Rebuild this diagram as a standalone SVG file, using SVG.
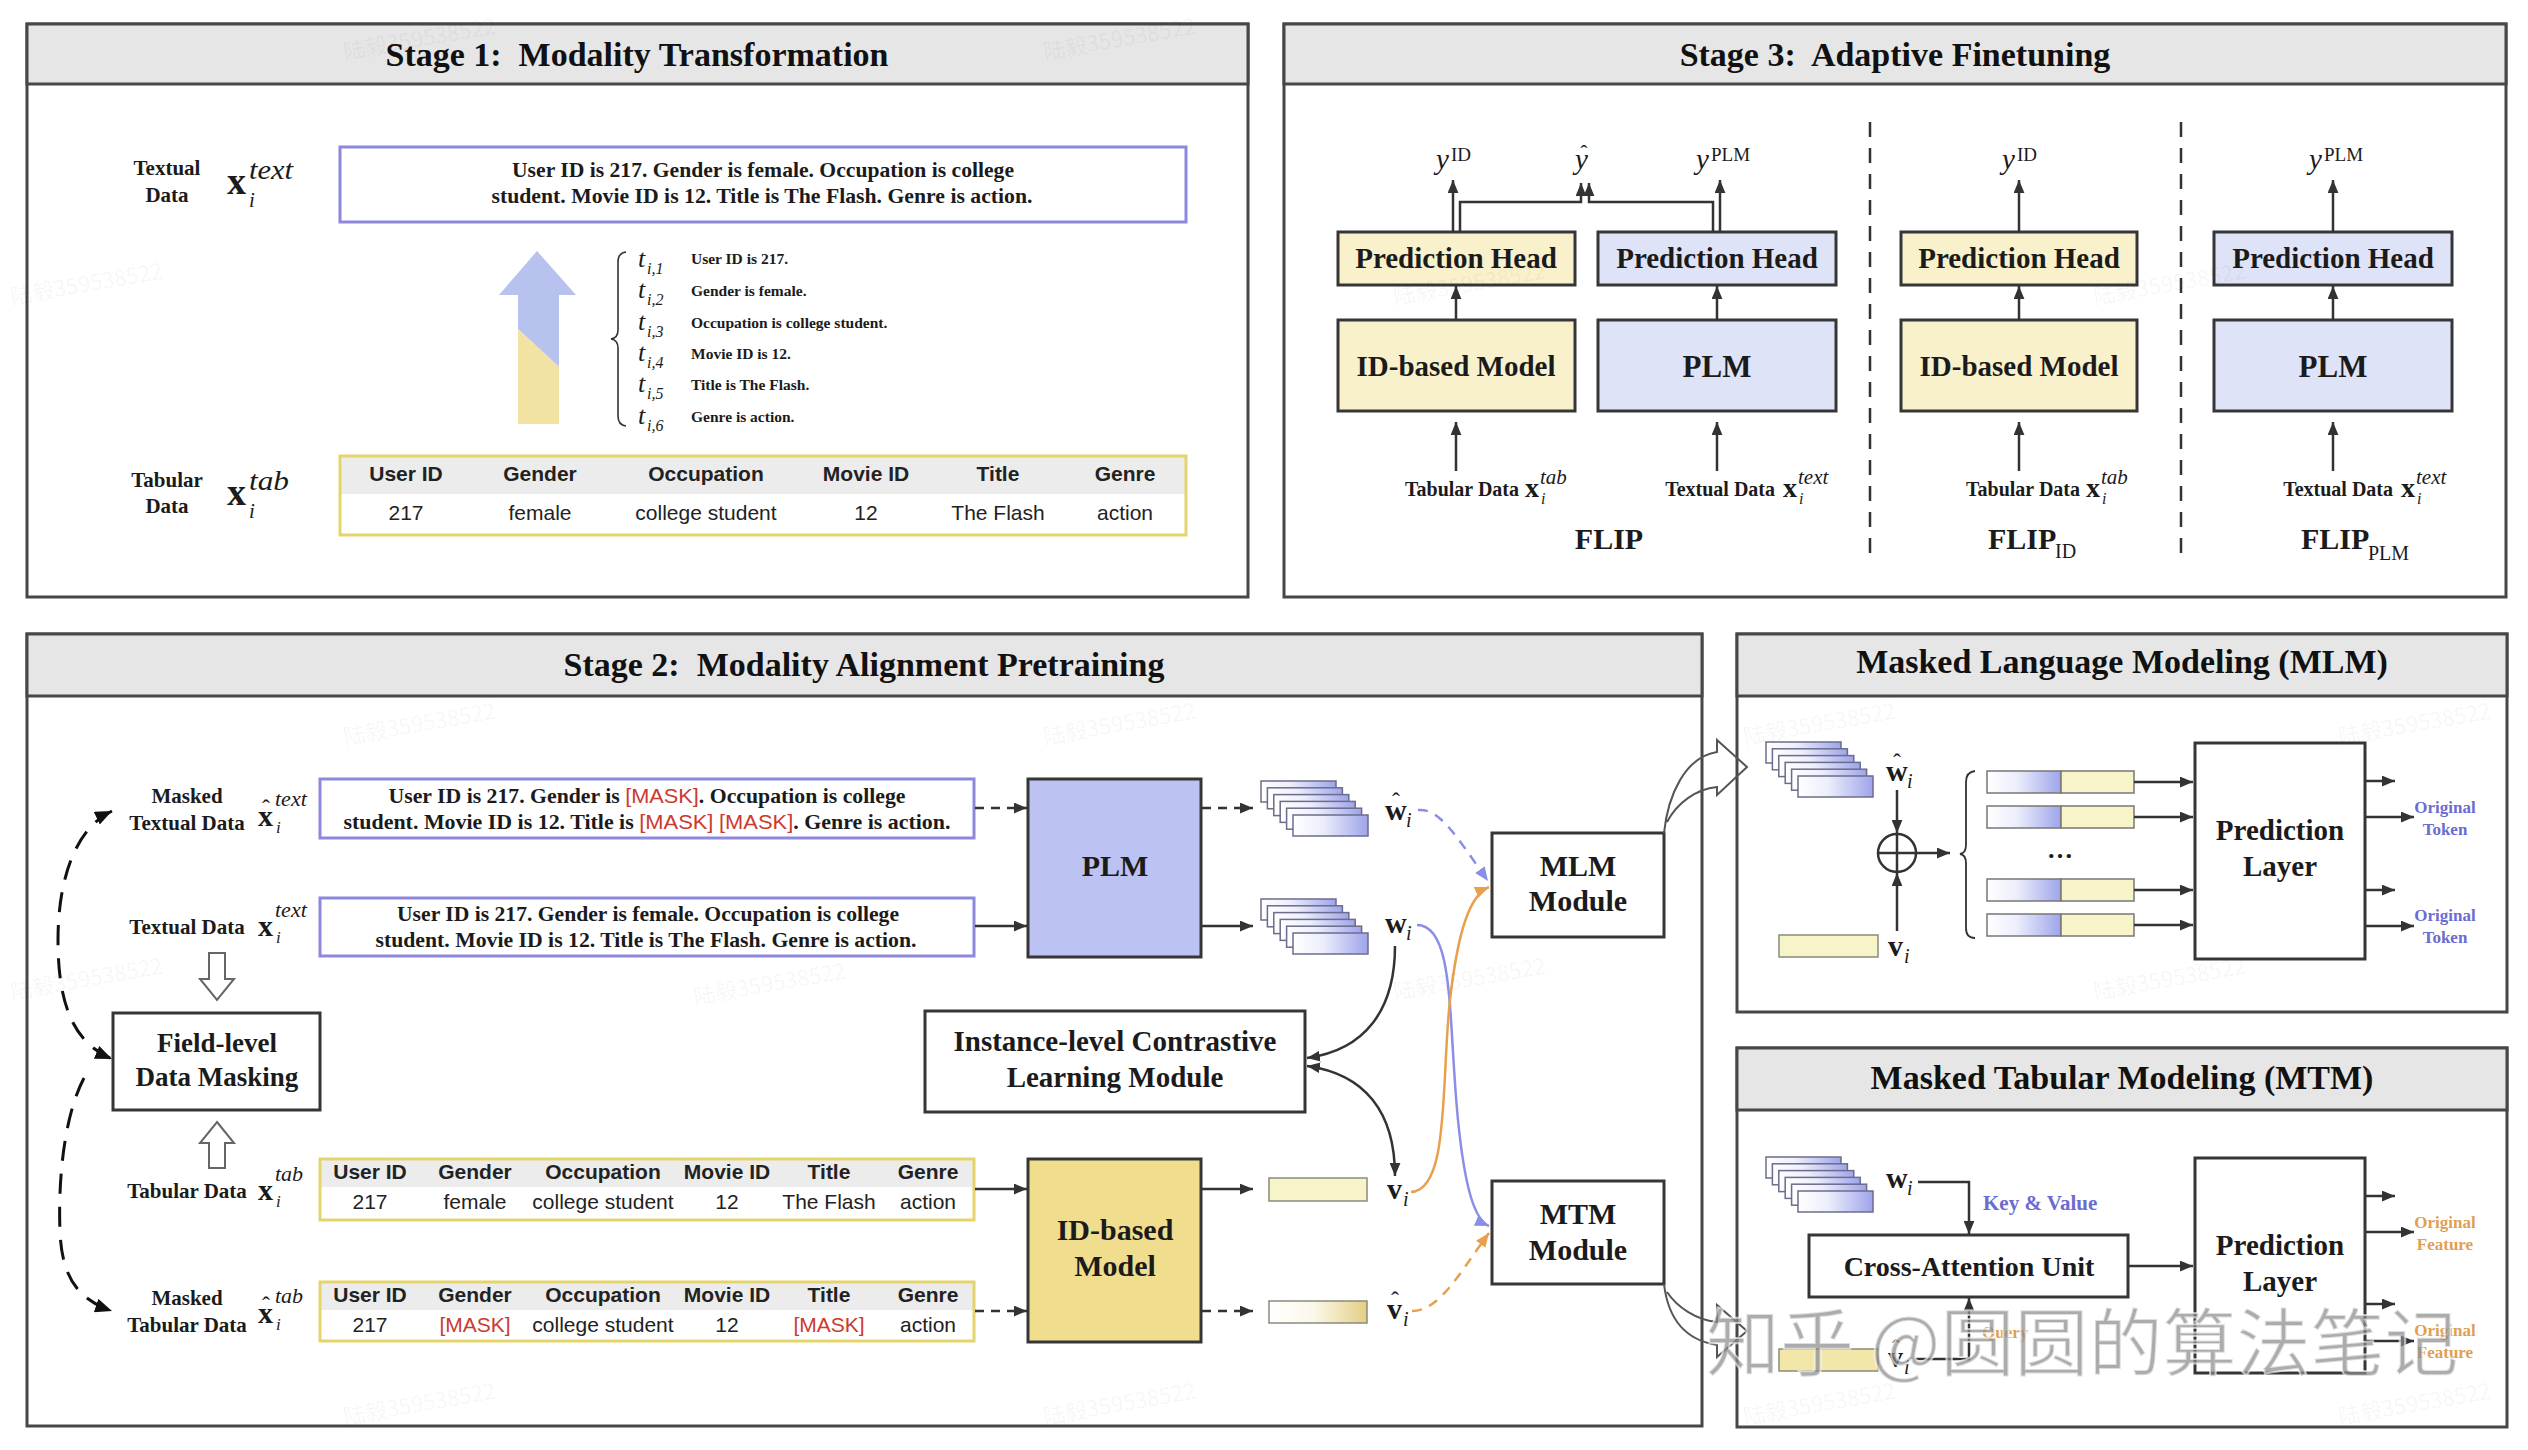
<svg xmlns="http://www.w3.org/2000/svg" width="2528" height="1450" viewBox="0 0 2528 1450">
<style>
.panel{fill:#fff;stroke:#474747;stroke-width:3}
.hdr{fill:#e6e6e6;stroke:#474747;stroke-width:3}
.title{font-family:"Liberation Serif",serif;font-weight:bold;font-size:34px;text-anchor:middle;fill:#111}
.sb{font-family:"Liberation Serif",serif;font-weight:bold;fill:#1b1b1b}
.sr{font-family:"Liberation Serif",serif;fill:#1b1b1b}
.si{font-family:"Liberation Serif",serif;font-style:italic;fill:#1b1b1b}
.ss{font-family:"Liberation Sans",Arial,sans-serif;fill:#222}
.ssb{font-family:"Liberation Sans",Arial,sans-serif;font-weight:bold;fill:#222}
.red{fill:#cc3a30}
.mid{text-anchor:middle}
.end{text-anchor:end}
.box{stroke:#363636;stroke-width:3}
.wbox{fill:#fff;stroke:#363636;stroke-width:3}
.ylw{fill:#f8f1cc}
.lav{fill:#dfe3f8}
.ln{fill:none;stroke:#333;stroke-width:2.5}
.dash{fill:none;stroke:#333;stroke-width:2.5;stroke-dasharray:9 7}
.txtbox{fill:#fff;stroke:#8d88dc;stroke-width:3}
.tabbox{fill:none;stroke:#e5d46c;stroke-width:3}
.thead{fill:#ececec}
.mask{font-family:"Liberation Sans",Arial,sans-serif;font-weight:normal;fill:#cc3a30}
.wm{font-family:"Noto Sans CJK SC","Liberation Sans",sans-serif;font-size:22px;fill:#000;fill-opacity:0.05}
.hollow{fill:#fff;stroke:#666;stroke-width:2}
.lavt{fill:#6b6bd0}
.orat{fill:#e0a050}
</style>
<defs>
<marker id="ah" viewBox="0 0 12 10" refX="12" refY="5" markerWidth="13" markerHeight="11" orient="auto-start-reverse" markerUnits="userSpaceOnUse"><path d="M0,0 L12,5 L0,10 z" fill="#333"/></marker>
<marker id="ahb" viewBox="0 0 12 10" refX="12" refY="5" markerWidth="17" markerHeight="14" orient="auto-start-reverse" markerUnits="userSpaceOnUse"><path d="M0,0 L12,5 L0,10 z" fill="#111"/></marker>
<marker id="ahl" viewBox="0 0 12 10" refX="12" refY="5" markerWidth="14" markerHeight="12" orient="auto" markerUnits="userSpaceOnUse"><path d="M0,0 L12,5 L0,10 z" fill="#8a8ee6"/></marker>
<marker id="aho" viewBox="0 0 12 10" refX="12" refY="5" markerWidth="14" markerHeight="12" orient="auto" markerUnits="userSpaceOnUse"><path d="M0,0 L12,5 L0,10 z" fill="#e8a04c"/></marker>
<linearGradient id="gLav" x1="0" y1="0" x2="1" y2="0"><stop offset="0" stop-color="#ffffff"/><stop offset="0.4" stop-color="#eceefb"/><stop offset="1" stop-color="#9ea4ea"/></linearGradient>
<linearGradient id="gYel" x1="0" y1="0" x2="1" y2="0"><stop offset="0" stop-color="#ffffff"/><stop offset="0.45" stop-color="#fbf8ea"/><stop offset="1" stop-color="#e4cf86"/></linearGradient>
<g id="stack">
<rect x="0" y="0" width="75" height="21" fill="url(#gLav)" stroke="#6c6c8c" stroke-width="1.5"/>
<rect x="6.4" y="6.8" width="75" height="21" fill="url(#gLav)" stroke="#6c6c8c" stroke-width="1.5"/>
<rect x="12.8" y="13.6" width="75" height="21" fill="url(#gLav)" stroke="#6c6c8c" stroke-width="1.5"/>
<rect x="19.2" y="20.4" width="75" height="21" fill="url(#gLav)" stroke="#6c6c8c" stroke-width="1.5"/>
<rect x="25.6" y="27.2" width="75" height="21" fill="url(#gLav)" stroke="#6c6c8c" stroke-width="1.5"/>
<rect x="32" y="34" width="75" height="21" fill="url(#gLav)" stroke="#6c6c8c" stroke-width="1.5"/>
</g>
</defs>
<rect x="0" y="0" width="2528" height="1450" fill="#fff"/>

<!-- ================= STAGE 1 ================= -->
<g id="stage1">
<rect class="panel" x="27" y="24" width="1221" height="573"/>
<rect class="hdr" x="27" y="24" width="1221" height="60"/>
<text class="title" x="637" y="66">Stage 1:&#160; Modality Transformation</text>
</g>
<g id="s1-textual-label">
<text class="sb mid" x="167" y="175" font-size="21">Textual</text>
<text class="sb mid" x="167" y="202" font-size="21">Data</text>
<text class="sb" x="227" y="194" font-size="38">x</text>
<text class="si" x="249" y="179" font-size="27" textLength="44" lengthAdjust="spacingAndGlyphs">text</text>
<text class="si" x="249" y="207" font-size="21">i</text>
</g>
<g id="s1-textbox">
<rect class="txtbox" x="340" y="147" width="846" height="75"/>
<text class="sb mid" x="763" y="177" font-size="21.5" textLength="502" lengthAdjust="spacingAndGlyphs">User ID is 217. Gender is female. Occupation is college</text>
<text class="sb mid" x="762" y="203" font-size="21.5" textLength="541" lengthAdjust="spacingAndGlyphs">student. Movie ID is 12. Title is The Flash. Genre is action.</text>
</g>
<g id="s1-bigarrow">
<polygon points="537,251 576,295 559,295 559,367 518,329 518,295 499,295" fill="#b7c3ee"/>
<polygon points="518,329 559,367 559,424 518,424" fill="#f2e3a2"/>
</g>
<g id="s1-fields">
<path d="M626,252 Q618,253 618,262 L618,330 Q618,338 611,339 Q618,340 618,348 L618,416 Q618,425 626,426" fill="none" stroke="#333" stroke-width="1.6"/>
<text class="si" x="638" y="267" font-size="26">t</text><text class="si" x="647" y="274" font-size="16">i,1</text>
<text class="si" x="638" y="298" font-size="26">t</text><text class="si" x="647" y="305" font-size="16">i,2</text>
<text class="si" x="638" y="330" font-size="26">t</text><text class="si" x="647" y="337" font-size="16">i,3</text>
<text class="si" x="638" y="361" font-size="26">t</text><text class="si" x="647" y="368" font-size="16">i,4</text>
<text class="si" x="638" y="392" font-size="26">t</text><text class="si" x="647" y="399" font-size="16">i,5</text>
<text class="si" x="638" y="424" font-size="26">t</text><text class="si" x="647" y="431" font-size="16">i,6</text>
<text class="sb" x="691" y="264" font-size="15.5">User ID is 217.</text>
<text class="sb" x="691" y="296" font-size="15.5">Gender is female.</text>
<text class="sb" x="691" y="328" font-size="15.5">Occupation is college student.</text>
<text class="sb" x="691" y="359" font-size="15.5">Movie ID is 12.</text>
<text class="sb" x="691" y="390" font-size="15.5">Title is The Flash.</text>
<text class="sb" x="691" y="422" font-size="15.5">Genre is action.</text>
</g>
<g id="s1-tabular-label">
<text class="sb mid" x="167" y="487" font-size="21">Tabular</text>
<text class="sb mid" x="167" y="513" font-size="21">Data</text>
<text class="sb" x="227" y="505" font-size="38">x</text>
<text class="si" x="249" y="490" font-size="27" textLength="40" lengthAdjust="spacingAndGlyphs">tab</text>
<text class="si" x="249" y="518" font-size="21">i</text>
</g>
<g id="s1-table">
<rect class="thead" x="340" y="456" width="846" height="38"/>
<rect class="tabbox" x="340" y="456" width="846" height="79"/>
<text class="ssb mid" x="406" y="481" font-size="21">User ID</text>
<text class="ssb mid" x="540" y="481" font-size="21">Gender</text>
<text class="ssb mid" x="706" y="481" font-size="21">Occupation</text>
<text class="ssb mid" x="866" y="481" font-size="21">Movie ID</text>
<text class="ssb mid" x="998" y="481" font-size="21">Title</text>
<text class="ssb mid" x="1125" y="481" font-size="21">Genre</text>
<text class="ss mid" x="406" y="520" font-size="21">217</text>
<text class="ss mid" x="540" y="520" font-size="21">female</text>
<text class="ss mid" x="706" y="520" font-size="21">college student</text>
<text class="ss mid" x="866" y="520" font-size="21">12</text>
<text class="ss mid" x="998" y="520" font-size="21">The Flash</text>
<text class="ss mid" x="1125" y="520" font-size="21">action</text>
</g>

<!-- ================= STAGE 3 ================= -->
<g id="stage3">
<rect class="panel" x="1284" y="24" width="1222" height="573"/>
<rect class="hdr" x="1284" y="24" width="1222" height="60"/>
<text class="title" x="1895" y="66">Stage 3:&#160; Adaptive Finetuning</text>
</g>
<g id="s3-ph1"><rect class="box ylw" x="1338" y="232" width="237" height="53"/><text class="sb mid" x="1456" y="268" font-size="29">Prediction Head</text></g>
<g id="s3-ph2"><rect class="box lav" x="1598" y="232" width="238" height="53"/><text class="sb mid" x="1717" y="268" font-size="29">Prediction Head</text></g>
<g id="s3-ph3"><rect class="box ylw" x="1901" y="232" width="236" height="53"/><text class="sb mid" x="2019" y="268" font-size="29">Prediction Head</text></g>
<g id="s3-ph4"><rect class="box lav" x="2214" y="232" width="238" height="53"/><text class="sb mid" x="2333" y="268" font-size="29">Prediction Head</text></g>
<g id="s3-m1"><rect class="box ylw" x="1338" y="320" width="237" height="91"/><text class="sb mid" x="1456" y="376" font-size="29">ID-based Model</text></g>
<g id="s3-m2"><rect class="box lav" x="1598" y="320" width="238" height="91"/><text class="sb mid" x="1717" y="377" font-size="31">PLM</text></g>
<g id="s3-m3"><rect class="box ylw" x="1901" y="320" width="236" height="91"/><text class="sb mid" x="2019" y="376" font-size="29">ID-based Model</text></g>
<g id="s3-m4"><rect class="box lav" x="2214" y="320" width="238" height="91"/><text class="sb mid" x="2333" y="377" font-size="31">PLM</text></g>
<g id="s3-labels">
<text class="sb end" x="1519" y="496" font-size="20" fill="#333">Tabular Data</text>
<text class="sb" x="1525" y="497" font-size="28">x</text><text class="si" x="1540" y="484" font-size="21">tab</text><text class="si" x="1541" y="504" font-size="16">i</text>
<text class="sb end" x="1775" y="496" font-size="20" fill="#333">Textual Data</text>
<text class="sb" x="1783" y="497" font-size="28">x</text><text class="si" x="1798" y="484" font-size="21">text</text><text class="si" x="1799" y="504" font-size="16">i</text>
<text class="sb end" x="2080" y="496" font-size="20" fill="#333">Tabular Data</text>
<text class="sb" x="2086" y="497" font-size="28">x</text><text class="si" x="2101" y="484" font-size="21">tab</text><text class="si" x="2102" y="504" font-size="16">i</text>
<text class="sb end" x="2393" y="496" font-size="20" fill="#333">Textual Data</text>
<text class="sb" x="2401" y="497" font-size="28">x</text><text class="si" x="2416" y="484" font-size="21">text</text><text class="si" x="2417" y="504" font-size="16">i</text>
<text class="si" x="1436" y="169" font-size="29">y</text><text class="sr" x="1451" y="161" font-size="19">ID</text>
<text class="si" x="1575" y="169" font-size="29">y</text><text class="sr mid" x="1584" y="160" font-size="22">ˆ</text>
<text class="si" x="1696" y="169" font-size="29">y</text><text class="sr" x="1711" y="161" font-size="19">PLM</text>
<text class="si" x="2002" y="169" font-size="29">y</text><text class="sr" x="2017" y="161" font-size="19">ID</text>
<text class="si" x="2309" y="169" font-size="29">y</text><text class="sr" x="2324" y="161" font-size="19">PLM</text>
<text class="sb mid" x="1609" y="549" font-size="30">FLIP</text>
<text class="sb" x="1988" y="549" font-size="30">FLIP</text><text class="sr" x="2055" y="558" font-size="20">ID</text>
<text class="sb" x="2301" y="549" font-size="30">FLIP</text><text class="sr" x="2368" y="560" font-size="20">PLM</text>
</g>
<g id="s3-connectors">
<line class="ln" x1="1456" y1="471" x2="1456" y2="422" marker-end="url(#ah)"/>
<line class="ln" x1="1717" y1="471" x2="1717" y2="422" marker-end="url(#ah)"/>
<line class="ln" x1="2019" y1="471" x2="2019" y2="422" marker-end="url(#ah)"/>
<line class="ln" x1="2333" y1="471" x2="2333" y2="422" marker-end="url(#ah)"/>
<line class="ln" x1="1456" y1="320" x2="1456" y2="286" marker-end="url(#ah)"/>
<line class="ln" x1="1717" y1="320" x2="1717" y2="286" marker-end="url(#ah)"/>
<line class="ln" x1="2019" y1="320" x2="2019" y2="286" marker-end="url(#ah)"/>
<line class="ln" x1="2333" y1="320" x2="2333" y2="286" marker-end="url(#ah)"/>
<line class="ln" x1="1453" y1="232" x2="1453" y2="180" marker-end="url(#ah)"/>
<path class="ln" d="M1460,232 L1460,202 L1581,202 L1581,183" marker-end="url(#ah)"/>
<path class="ln" d="M1713,232 L1713,202 L1589,202 L1589,183" marker-end="url(#ah)"/>
<line class="ln" x1="1720" y1="232" x2="1720" y2="180" marker-end="url(#ah)"/>
<line class="ln" x1="2019" y1="232" x2="2019" y2="180" marker-end="url(#ah)"/>
<line class="ln" x1="2333" y1="232" x2="2333" y2="180" marker-end="url(#ah)"/>
<line x1="1870" y1="122" x2="1870" y2="553" stroke="#333" stroke-width="2.5" stroke-dasharray="15 11"/>
<line x1="2181" y1="122" x2="2181" y2="553" stroke="#333" stroke-width="2.5" stroke-dasharray="15 11"/>
</g>

<!-- ================= STAGE 2 ================= -->
<g id="stage2">
<rect class="panel" x="27" y="634" width="1675" height="792"/>
<rect class="hdr" x="27" y="634" width="1675" height="62"/>
<text class="title" x="864" y="676">Stage 2:&#160; Modality Alignment Pretraining</text>
</g>
<g id="s2-labels">
<text class="sb mid" x="187" y="803" font-size="21" fill="#333">Masked</text>
<text class="sb mid" x="187" y="830" font-size="21">Textual Data</text>
<text class="sb" x="258" y="826" font-size="30">x</text><text class="sr mid" x="266" y="816" font-size="24">ˆ</text><text class="si" x="275" y="806" font-size="22">text</text><text class="si" x="276" y="833" font-size="17">i</text>
<text class="sb mid" x="187" y="934" font-size="21">Textual Data</text>
<text class="sb" x="258" y="936" font-size="30">x</text><text class="si" x="275" y="917" font-size="22">text</text><text class="si" x="276" y="943" font-size="17">i</text>
<text class="sb mid" x="187" y="1198" font-size="21">Tabular Data</text>
<text class="sb" x="258" y="1200" font-size="30">x</text><text class="si" x="275" y="1181" font-size="22">tab</text><text class="si" x="276" y="1207" font-size="17">i</text>
<text class="sb mid" x="187" y="1305" font-size="21">Masked</text>
<text class="sb mid" x="187" y="1332" font-size="21">Tabular Data</text>
<text class="sb" x="258" y="1323" font-size="30">x</text><text class="sr mid" x="266" y="1313" font-size="24">ˆ</text><text class="si" x="275" y="1303" font-size="22">tab</text><text class="si" x="276" y="1330" font-size="17">i</text>
</g>
<g id="s2-masked-text">
<rect class="txtbox" x="320" y="779" width="654" height="59"/>
<text class="sb mid" x="647" y="803" font-size="21" textLength="517" lengthAdjust="spacingAndGlyphs">User ID is 217. Gender is <tspan class="mask">[MASK]</tspan>. Occupation is college</text>
<text class="sb mid" x="647" y="829" font-size="21" textLength="607" lengthAdjust="spacingAndGlyphs">student. Movie ID is 12. Title is <tspan class="mask">[MASK]</tspan> <tspan class="mask">[MASK]</tspan>. Genre is action.</text>
</g>
<g id="s2-textual">
<rect class="txtbox" x="320" y="898" width="654" height="58"/>
<text class="sb mid" x="648" y="921" font-size="21" textLength="502" lengthAdjust="spacingAndGlyphs">User ID is 217. Gender is female. Occupation is college</text>
<text class="sb mid" x="646" y="947" font-size="21" textLength="541" lengthAdjust="spacingAndGlyphs">student. Movie ID is 12. Title is The Flash. Genre is action.</text>
</g>
<g id="s2-field-masking">
<polygon class="hollow" points="209,953 225,953 225,979 234,979 217,1000 200,979 209,979"/>
<rect class="wbox" x="113" y="1013" width="207" height="97"/>
<text class="sb mid" x="217" y="1052" font-size="27">Field-level</text>
<text class="sb mid" x="217" y="1086" font-size="27">Data Masking</text>
<polygon class="hollow" points="217,1122 234,1143 225,1143 225,1168 209,1168 209,1143 200,1143"/>
</g>
<g id="s2-tabular">
<rect class="thead" x="320" y="1159" width="654" height="28"/>
<rect class="tabbox" x="320" y="1159" width="654" height="61"/>
<text class="ssb mid" x="370" y="1179" font-size="21">User ID</text>
<text class="ssb mid" x="475" y="1179" font-size="21">Gender</text>
<text class="ssb mid" x="603" y="1179" font-size="21">Occupation</text>
<text class="ssb mid" x="727" y="1179" font-size="21">Movie ID</text>
<text class="ssb mid" x="829" y="1179" font-size="21">Title</text>
<text class="ssb mid" x="928" y="1179" font-size="21">Genre</text>
<text class="ss mid" x="370" y="1209" font-size="21">217</text>
<text class="ss mid" x="475" y="1209" font-size="21">female</text>
<text class="ss mid" x="603" y="1209" font-size="21">college student</text>
<text class="ss mid" x="727" y="1209" font-size="21">12</text>
<text class="ss mid" x="829" y="1209" font-size="21">The Flash</text>
<text class="ss mid" x="928" y="1209" font-size="21">action</text>
</g>
<g id="s2-masked-tabular">
<rect class="thead" x="320" y="1282" width="654" height="28"/>
<rect class="tabbox" x="320" y="1282" width="654" height="59"/>
<text class="ssb mid" x="370" y="1302" font-size="21">User ID</text>
<text class="ssb mid" x="475" y="1302" font-size="21">Gender</text>
<text class="ssb mid" x="603" y="1302" font-size="21">Occupation</text>
<text class="ssb mid" x="727" y="1302" font-size="21">Movie ID</text>
<text class="ssb mid" x="829" y="1302" font-size="21">Title</text>
<text class="ssb mid" x="928" y="1302" font-size="21">Genre</text>
<text class="ss mid" x="370" y="1332" font-size="21">217</text>
<text class="ss red mid" x="475" y="1332" font-size="21">[MASK]</text>
<text class="ss mid" x="603" y="1332" font-size="21">college student</text>
<text class="ss mid" x="727" y="1332" font-size="21">12</text>
<text class="ss red mid" x="829" y="1332" font-size="21">[MASK]</text>
<text class="ss mid" x="928" y="1332" font-size="21">action</text>
</g>
<g id="s2-plm"><rect class="box" fill="#bcc2f1" x="1028" y="779" width="173" height="178"/><text class="sb mid" x="1115" y="876" font-size="30">PLM</text></g>
<g id="s2-idmodel"><rect class="box" fill="#f1dd8e" x="1028" y="1159" width="173" height="183"/><text class="sb mid" x="1115" y="1240" font-size="30">ID-based</text><text class="sb mid" x="1115" y="1276" font-size="30">Model</text></g>
<g id="s2-embeddings">
<use href="#stack" x="1261" y="781"/>
<use href="#stack" x="1261" y="899"/>
<rect x="1269" y="1178" width="98" height="23" fill="#f7f4c9" stroke="#8a8a7a" stroke-width="1.5"/>
<rect x="1269" y="1301" width="98" height="22" fill="url(#gYel)" stroke="#8a8a7a" stroke-width="1.5"/>
<text class="sb" x="1385" y="820" font-size="30">w</text><text class="sr mid" x="1396" y="809" font-size="24">ˆ</text><text class="si" x="1406" y="827" font-size="20">i</text>
<text class="sb" x="1385" y="933" font-size="30">w</text><text class="si" x="1406" y="940" font-size="20">i</text>
<text class="sb" x="1387" y="1199" font-size="30">v</text><text class="si" x="1403" y="1206" font-size="20">i</text>
<text class="sb" x="1387" y="1319" font-size="30">v</text><text class="sr mid" x="1395" y="1308" font-size="24">ˆ</text><text class="si" x="1403" y="1326" font-size="20">i</text>
</g>
<g id="s2-instance"><rect class="wbox" x="925" y="1011" width="380" height="101"/><text class="sb mid" x="1115" y="1051" font-size="29">Instance-level Contrastive</text><text class="sb mid" x="1115" y="1087" font-size="29">Learning Module</text></g>
<g id="s2-mlm-module"><rect class="wbox" x="1492" y="833" width="172" height="104"/><text class="sb mid" x="1578" y="876" font-size="30">MLM</text><text class="sb mid" x="1578" y="911" font-size="30">Module</text></g>
<g id="s2-mtm-module"><rect class="wbox" x="1492" y="1181" width="172" height="103"/><text class="sb mid" x="1578" y="1224" font-size="30">MTM</text><text class="sb mid" x="1578" y="1260" font-size="30">Module</text></g>

<!-- ================= MLM panel ================= -->
<g id="mlm-panel">
<rect class="panel" x="1737" y="634" width="770" height="378"/>
<rect class="hdr" x="1737" y="634" width="770" height="62"/>
<text class="title" x="2122" y="673">Masked Language Modeling (MLM)</text>
</g>
<g id="mlm-inputs">
<use href="#stack" x="1766" y="742"/>
<text class="sb" x="1886" y="781" font-size="30">w</text><text class="sr mid" x="1897" y="770" font-size="24">ˆ</text><text class="si" x="1907" y="788" font-size="20">i</text>
<rect x="1779" y="935" width="99" height="22" fill="#f7f4c9" stroke="#8a8a7a" stroke-width="1.5"/>
<text class="sb" x="1888" y="956" font-size="30">v</text><text class="si" x="1904" y="963" font-size="20">i</text>
<circle cx="1897" cy="853" r="19" fill="#fff" stroke="#333" stroke-width="2.5"/>
<line x1="1878" y1="853" x2="1916" y2="853" stroke="#333" stroke-width="2.5"/>
<line x1="1897" y1="834" x2="1897" y2="872" stroke="#333" stroke-width="2.5"/>
<path d="M1975,771 Q1966,772 1966,782 L1966,845 Q1966,853 1960,854 Q1966,855 1966,863 L1966,928 Q1966,938 1975,938" fill="none" stroke="#333" stroke-width="1.8"/>
</g>
<g id="mlm-tokens">
<rect x="1987" y="771" width="74" height="22" fill="url(#gLav)" stroke="#777" stroke-width="1.5"/><rect x="2061" y="771" width="73" height="22" fill="#f7f4c9" stroke="#777" stroke-width="1.5"/>
<rect x="1987" y="806" width="74" height="22" fill="url(#gLav)" stroke="#777" stroke-width="1.5"/><rect x="2061" y="806" width="73" height="22" fill="#f7f4c9" stroke="#777" stroke-width="1.5"/>
<rect x="1987" y="879" width="74" height="22" fill="url(#gLav)" stroke="#777" stroke-width="1.5"/><rect x="2061" y="879" width="73" height="22" fill="#f7f4c9" stroke="#777" stroke-width="1.5"/>
<rect x="1987" y="914" width="74" height="22" fill="url(#gLav)" stroke="#777" stroke-width="1.5"/><rect x="2061" y="914" width="73" height="22" fill="#f7f4c9" stroke="#777" stroke-width="1.5"/>
<text class="sb mid" x="2060" y="858" font-size="26">…</text>
</g>
<g id="mlm-pred"><rect class="wbox" x="2195" y="743" width="170" height="216"/><text class="sb mid" x="2280" y="840" font-size="29">Prediction</text><text class="sb mid" x="2280" y="876" font-size="29">Layer</text></g>
<g id="mlm-outputs">
<text class="sb mid lavt" x="2445" y="813" font-size="17">Original</text><text class="sb mid lavt" x="2445" y="835" font-size="17">Token</text>
<text class="sb mid lavt" x="2445" y="921" font-size="17">Original</text><text class="sb mid lavt" x="2445" y="943" font-size="17">Token</text>
</g>

<!-- ================= MTM panel ================= -->
<g id="mtm-panel">
<rect class="panel" x="1737" y="1048" width="770" height="379"/>
<rect class="hdr" x="1737" y="1048" width="770" height="62"/>
<text class="title" x="2122" y="1089">Masked Tabular Modeling (MTM)</text>
</g>
<g id="mtm-inputs">
<use href="#stack" x="1766" y="1157"/>
<text class="sb" x="1886" y="1188" font-size="30">w</text><text class="si" x="1907" y="1195" font-size="20">i</text>
<text class="sb lavt" x="1983" y="1210" font-size="21">Key &amp; Value</text>
<rect x="1779" y="1349" width="99" height="22" fill="#f2e6a8" stroke="#8a8a7a" stroke-width="1.5"/>
<text class="sb" x="1888" y="1367" font-size="30">v</text><text class="sr mid" x="1896" y="1356" font-size="24">ˆ</text><text class="si" x="1904" y="1374" font-size="20">i</text>
<text class="sb orat" x="1982" y="1338" font-size="17">Query</text>
</g>
<g id="mtm-cross"><rect class="wbox" x="1809" y="1235" width="319" height="62"/><text class="sb mid" x="1969" y="1276" font-size="28">Cross-Attention Unit</text></g>
<g id="mtm-pred"><rect class="wbox" x="2195" y="1158" width="170" height="215"/><text class="sb mid" x="2280" y="1255" font-size="29">Prediction</text><text class="sb mid" x="2280" y="1291" font-size="29">Layer</text></g>
<g id="mtm-outputs">
<text class="sb mid orat" x="2445" y="1228" font-size="17">Original</text><text class="sb mid orat" x="2445" y="1250" font-size="17">Feature</text>
<text class="sb mid orat" x="2445" y="1336" font-size="17">Original</text><text class="sb mid orat" x="2445" y="1358" font-size="17">Feature</text>
</g>

<!-- ================= CONNECTORS ================= -->
<g id="connectors">
<path d="M112,811 C76,828 58,878 58,940 C58,1002 72,1042 112,1059" fill="none" stroke="#111" stroke-width="3" stroke-dasharray="20 13" marker-start="url(#ahb)" marker-end="url(#ahb)"/>
<path d="M84,1078 C64,1116 58,1180 60,1232 C62,1280 80,1300 112,1311" fill="none" stroke="#111" stroke-width="3" stroke-dasharray="20 13" marker-end="url(#ahb)"/>
<line class="dash" x1="975" y1="808" x2="1027" y2="808" marker-end="url(#ah)"/>
<line class="ln" x1="975" y1="926" x2="1027" y2="926" marker-end="url(#ah)"/>
<line class="ln" x1="975" y1="1189" x2="1027" y2="1189" marker-end="url(#ah)"/>
<line class="dash" x1="975" y1="1311" x2="1027" y2="1311" marker-end="url(#ah)"/>
<line class="dash" x1="1202" y1="808" x2="1253" y2="808" marker-end="url(#ah)"/>
<line class="ln" x1="1202" y1="926" x2="1253" y2="926" marker-end="url(#ah)"/>
<line class="ln" x1="1202" y1="1189" x2="1253" y2="1189" marker-end="url(#ah)"/>
<line class="dash" x1="1202" y1="1311" x2="1253" y2="1311" marker-end="url(#ah)"/>
<path class="ln" d="M1395,946 C1395,1010 1365,1050 1307,1058" marker-end="url(#ah)"/>
<path class="ln" d="M1307,1066 C1365,1074 1395,1112 1395,1176" marker-start="url(#ah)" marker-end="url(#ah)"/>
<path d="M1418,810 C1440,808 1456,836 1488,881" fill="none" stroke="#8a8ee6" stroke-width="2.5" stroke-dasharray="10 8" marker-end="url(#ahl)"/>
<path d="M1417,925 C1455,925 1448,1020 1458,1120 C1465,1190 1475,1220 1489,1226" fill="none" stroke="#8a8ee6" stroke-width="2.5" marker-end="url(#ahl)"/>
<path d="M1411,1192 C1450,1190 1441,1080 1450,1000 C1458,930 1470,895 1489,887" fill="none" stroke="#e8a04c" stroke-width="2.5" marker-end="url(#aho)"/>
<path d="M1412,1311 C1440,1311 1460,1272 1489,1233" fill="none" stroke="#e8a04c" stroke-width="2.5" stroke-dasharray="10 8" marker-end="url(#aho)"/>
<path d="M1664,833 C1668,795 1685,757 1717,752 L1717,740 L1747,767 L1717,795 L1717,787 C1696,789 1677,803 1667,822" fill="none" stroke="#555" stroke-width="2"/>
<path d="M1664,1284 C1668,1318 1685,1340 1717,1345 L1717,1357 L1747,1331 L1717,1305 L1717,1322 C1696,1320 1677,1307 1667,1292" fill="none" stroke="#555" stroke-width="2"/>
<line class="ln" x1="1897" y1="790" x2="1897" y2="833" marker-end="url(#ah)"/>
<line class="ln" x1="1897" y1="931" x2="1897" y2="873" marker-end="url(#ah)"/>
<line class="ln" x1="1916" y1="853" x2="1950" y2="853" marker-end="url(#ah)"/>
<line class="ln" x1="2134" y1="782" x2="2193" y2="782" marker-end="url(#ah)"/>
<line class="ln" x1="2134" y1="817" x2="2193" y2="817" marker-end="url(#ah)"/>
<line class="ln" x1="2134" y1="890" x2="2193" y2="890" marker-end="url(#ah)"/>
<line class="ln" x1="2134" y1="925" x2="2193" y2="925" marker-end="url(#ah)"/>
<line class="ln" x1="2366" y1="781" x2="2395" y2="781" marker-end="url(#ah)"/>
<line class="ln" x1="2366" y1="817" x2="2414" y2="817" marker-end="url(#ah)"/>
<line class="ln" x1="2366" y1="890" x2="2395" y2="890" marker-end="url(#ah)"/>
<line class="ln" x1="2366" y1="926" x2="2414" y2="926" marker-end="url(#ah)"/>
<path class="ln" d="M1918,1182 L1969,1182 L1969,1234" marker-end="url(#ah)"/>
<path class="ln" d="M1915,1359 L1969,1359 L1969,1298" marker-end="url(#ah)"/>
<line class="ln" x1="2129" y1="1266" x2="2193" y2="1266" marker-end="url(#ah)"/>
<line class="ln" x1="2366" y1="1196" x2="2395" y2="1196" marker-end="url(#ah)"/>
<line class="ln" x1="2366" y1="1232" x2="2414" y2="1232" marker-end="url(#ah)"/>
<line class="ln" x1="2366" y1="1304" x2="2395" y2="1304" marker-end="url(#ah)"/>
<line class="ln" x1="2366" y1="1341" x2="2414" y2="1341" marker-end="url(#ah)"/>
</g>

<!-- ================= WATERMARKS ================= -->
<g id="watermarks">
<text class="wm" transform="translate(345,60) rotate(-10)">陆毅359538522</text>
<text class="wm" transform="translate(1045,60) rotate(-10)">陆毅359538522</text>
<text class="wm" transform="translate(12,305) rotate(-10)">陆毅359538522</text>
<text class="wm" transform="translate(1395,305) rotate(-10)">陆毅359538522</text>
<text class="wm" transform="translate(2095,305) rotate(-10)">陆毅359538522</text>
<text class="wm" transform="translate(345,745) rotate(-10)">陆毅359538522</text>
<text class="wm" transform="translate(1045,745) rotate(-10)">陆毅359538522</text>
<text class="wm" transform="translate(1745,745) rotate(-10)">陆毅359538522</text>
<text class="wm" transform="translate(2340,745) rotate(-10)">陆毅359538522</text>
<text class="wm" transform="translate(12,1000) rotate(-10)">陆毅359538522</text>
<text class="wm" transform="translate(695,1005) rotate(-10)">陆毅359538522</text>
<text class="wm" transform="translate(1395,1000) rotate(-10)">陆毅359538522</text>
<text class="wm" transform="translate(2095,1000) rotate(-10)">陆毅359538522</text>
<text class="wm" transform="translate(345,1425) rotate(-10)">陆毅359538522</text>
<text class="wm" transform="translate(1045,1425) rotate(-10)">陆毅359538522</text>
<text class="wm" transform="translate(1745,1425) rotate(-10)">陆毅359538522</text>
<text class="wm" transform="translate(2340,1425) rotate(-10)">陆毅359538522</text>
<text x="1706" y="1370" font-family="Noto Sans CJK SC, sans-serif" font-size="74" fill="#8c8c8c" fill-opacity="0.72" stroke="#ffffff" stroke-opacity="0.6" stroke-width="2">知乎 @圆圆的算法笔记</text>
</g>
</svg>
